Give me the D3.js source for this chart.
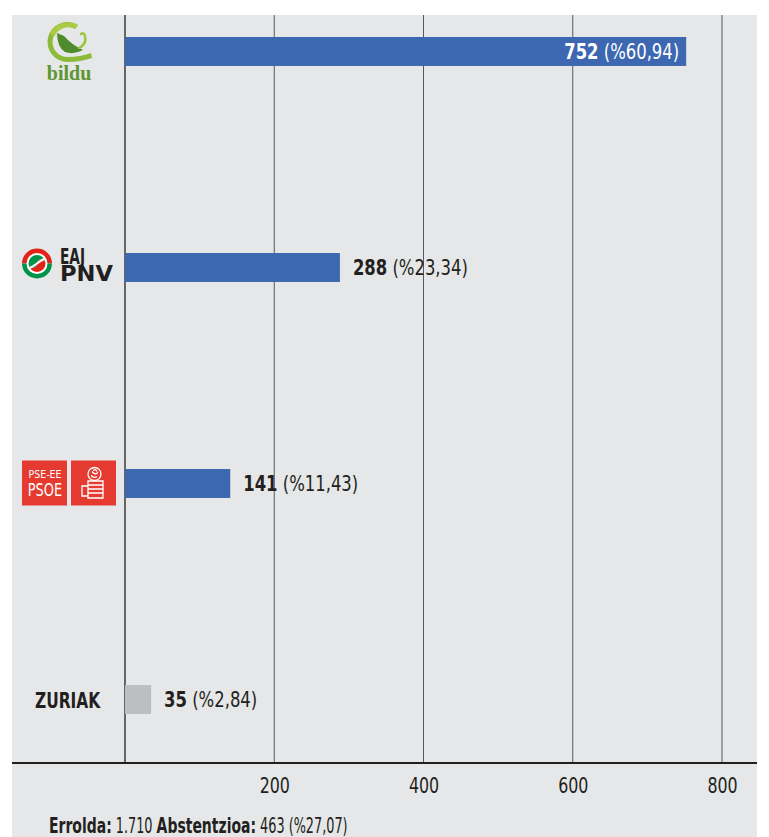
<!DOCTYPE html>
<html>
<head>
<meta charset="utf-8">
<script src="https://cdn.jsdelivr.net/npm/d3@7"></script>
<style>
  body { margin: 0; background: #fff; }
  svg text { font-family: 'Liberation Sans Narrow', 'DejaVu Sans Condensed', 'Roboto', sans-serif; }
</style>
</head>
<body>
<svg id="chart" width="769" height="837"></svg>
<script>
// data
const parties = ["bildu", "pnv", "psoe", "zuriak"];
const votes = [752, 288, 141, 35];
const percents = ["%60,94", "%23,34", "%11,43", "%2,84"];
const barColors = ["#3d67b1", "#3d67b1", "#3d67b1", "#bcbec0"];
const ticks = [200, 400, 600, 800];
const footer = [["Errolda:", true], ["1.710", false], ["Abstentzioa:", true], ["463 (%27,07)", false]];

const svg = d3.select("#chart");
const ink = "#231f20";

// the print font is narrower than what we have: squeeze with a horizontal scale
function condense(sel, k) {
  sel.each(function() {
    const t = d3.select(this);
    const x0 = +t.attr("x") || 0, y0 = +t.attr("y") || 0;
    t.attr("x", 0).attr("y", 0).attr("transform", "translate(" + x0 + "," + y0 + ") scale(" + k + ",1)");
  });
}

svg.append("rect").attr("x", 12).attr("y", 15).attr("width", 745).attr("height", 822).attr("fill", "#e6e7e8");

const x = d3.scaleLinear().domain([0, 800]).range([125, 722]);
const y = d3.scaleBand().domain(parties).range([37, 714]).paddingInner(0.866).paddingOuter(0);

// grid lines
svg.append("g").selectAll("line").data([0].concat(ticks)).enter().append("line")
  .attr("x1", d => x(d)).attr("x2", d => x(d))
  .attr("y1", 15).attr("y2", 763)
  .attr("stroke", d => d == 0 ? ink : "#58595b")
  .attr("stroke-width", d => d == 0 ? 1.3 : 1);

// axis
const xAxis = d3.axisBottom(x).tickValues(ticks).tickSize(0).tickPadding(15);
const axisG = svg.append("g").attr("transform", "translate(0,763)").call(xAxis);
axisG.select(".domain").remove();
axisG.selectAll("text").attr("font-size", 21).attr("fill", ink)
  .style("font-family", "'Liberation Sans Narrow', 'DejaVu Sans Condensed', sans-serif");
condense(axisG.selectAll("text"), 0.84);
svg.append("line").attr("x1", 12).attr("x2", 757).attr("y1", 763).attr("y2", 763)
  .attr("stroke", ink).attr("stroke-width", 2.2);

// bars
const data = parties.map((p, i) => ({party: p, value: votes[i], pct: percents[i], color: barColors[i]}));
svg.append("g").selectAll("rect").data(data).enter().append("rect")
  .attr("x", x(0)).attr("y", d => y(d.party))
  .attr("width", d => x(d.value) - x(0)).attr("height", y.bandwidth())
  .attr("fill", d => d.color);

// value labels
const labels = svg.append("g").selectAll("text").data(data).enter().append("text")
  .attr("x", (d, i) => i == 0 ? x(d.value) - 7 : x(d.value) + 13)
  .attr("y", d => y(d.party) + y.bandwidth() / 2 + 7.5)
  .attr("text-anchor", (d, i) => i == 0 ? "end" : "start")
  .attr("font-size", 21)
  .attr("fill", (d, i) => i == 0 ? "#fff" : ink);
labels.append("tspan").attr("font-weight", "bold").text(d => d.value);
labels.append("tspan").text(d => " (" + d.pct + ")");
condense(labels, 0.87);

// party logos
// bildu
const bl = svg.append("g").attr("transform", "translate(68," + (y("bildu") + 5) + ")");
bl.append("path").attr("d", "M10,-17 A20,20 0 1,0 0,20 Q12,20 24,16 L23,11 Q12,15 0,15 A15,15 0 1,1 7,-13 Z")
  .attr("fill", "#8dba38");
bl.append("path").attr("d", "M10,-17 A20,20 0 0,0 -18,-8 L-13.5,-6 A15,15 0 0,1 7,-13 Z").attr("fill", "#a9cc43");
bl.append("path").attr("d", "M-11,-9 L-4,-6 Q4,3 15,8 Q6,13 -3,10 Q-11,5 -11,-9 Z").attr("fill", "#4f8b2d");
bl.append("path").attr("d", "M11,6 Q19,2 17,-6 Q16,-10 13,-8").attr("fill", "none")
  .attr("stroke", "#9cc33c").attr("stroke-width", 2.5).attr("stroke-linecap", "round");
bl.append("text").attr("x", 1).attr("y", 38).attr("text-anchor", "middle")
  .style("font-family", "'Liberation Serif', 'DejaVu Serif', serif")
  .attr("font-size", 20).attr("font-weight", "bold").attr("fill", "#5f962f").text("bildu");

// eaj-pnv
const pc = y("pnv") + y.bandwidth() / 2 - 4;
const pl = svg.append("g").attr("transform", "translate(37," + pc + ")");
pl.append("path").attr("d", "M-15,0 A15,15 0 0,1 15,0 Z").attr("fill", "#e2231a");
pl.append("path").attr("d", "M-15,0 A15,15 0 0,0 15,0 Z").attr("fill", "#00944a");
pl.append("circle").attr("r", 10.5).attr("fill", "#fff");
const yy = pl.append("g").attr("transform", "rotate(-90)");
yy.append("path").attr("d", "M0,-8.5 A8.5,8.5 0 0,0 0,8.5 A4.25,4.25 0 0,0 0,0 A4.25,4.25 0 0,1 0,-8.5 Z").attr("fill", "#e2231a");
yy.append("path").attr("d", "M0,-8.5 A8.5,8.5 0 0,1 0,8.5 A4.25,4.25 0 0,0 0,0 A4.25,4.25 0 0,1 0,-8.5 Z").attr("fill", "#00944a");
pl.append("path").attr("d", "M8,-5 Q4,-3 0,0 Q-4,3 -8,5").attr("fill", "none").attr("stroke", "#fff").attr("stroke-width", 2);
svg.append("text").attr("x", 60).attr("y", pc + 0.5).attr("font-size", 21).attr("font-weight", "bold")
  .attr("fill", ink).attr("textLength", 25).attr("lengthAdjust", "spacingAndGlyphs").text("EAJ");
svg.append("text").attr("x", 60).attr("y", pc + 18).attr("font-size", 22).attr("font-weight", "bold")
  .attr("fill", ink).attr("textLength", 53).attr("lengthAdjust", "spacingAndGlyphs").text("PNV");

// pse-ee psoe
const sc = y("psoe") + y.bandwidth() / 2;
const sl = svg.append("g");
sl.append("rect").attr("x", 22).attr("y", sc - 23).attr("width", 45).attr("height", 45).attr("fill", "#e53a30");
sl.append("rect").attr("x", 71).attr("y", sc - 23).attr("width", 45).attr("height", 45).attr("fill", "#e53a30");
const s1 = sl.append("text").attr("x", 45).attr("y", sc - 5.5).attr("text-anchor", "middle").attr("font-size", 11)
  .attr("fill", "#fff").text("PSE-EE");
const s2 = sl.append("text").attr("x", 45).attr("y", sc + 12).attr("text-anchor", "middle").attr("font-size", 18)
  .attr("fill", "#fff").text("PSOE");
condense(s1, 0.95);
condense(s2, 0.8);
const fist = sl.append("g").attr("transform", "translate(93," + sc + ")")
  .attr("fill", "none").attr("stroke", "#fff").attr("stroke-width", 1.3);
fist.append("circle").attr("cx", 1.5).attr("cy", -9.5).attr("r", 6.5);
fist.append("path").attr("d", "M-1,-12 Q2,-8 5,-11 M-2,-8 Q1,-5 4,-7 M0,-13 Q3,-15 4,-12");
fist.append("path").attr("d", "M-5,-2.5 H10 V14.5 H-5 Z M-5,1.5 H10 M-5,5.5 H10 M-5,9.5 H10");
fist.append("path").attr("d", "M-5,2.5 H-11 V12.5 H-5");

// zuriak
const zt = svg.append("text").attr("x", 35).attr("y", y("zuriak") + y.bandwidth() / 2 + 8)
  .attr("font-size", 22).attr("font-weight", "bold").attr("fill", ink).text("ZURIAK");
condense(zt, 0.78);

// footer, piece by piece
let fx = 49;
footer.forEach(function(f) {
  const k = f[1] ? 0.74 : 0.68;
  const t = svg.append("text").attr("x", fx).attr("y", 833).attr("font-size", 21)
    .attr("font-weight", f[1] ? "bold" : "normal").attr("fill", ink).text(f[0]);
  const w = t.node().getComputedTextLength() * k;
  condense(t, k);
  fx += w + 4;
});
</script>
</body>
</html>
